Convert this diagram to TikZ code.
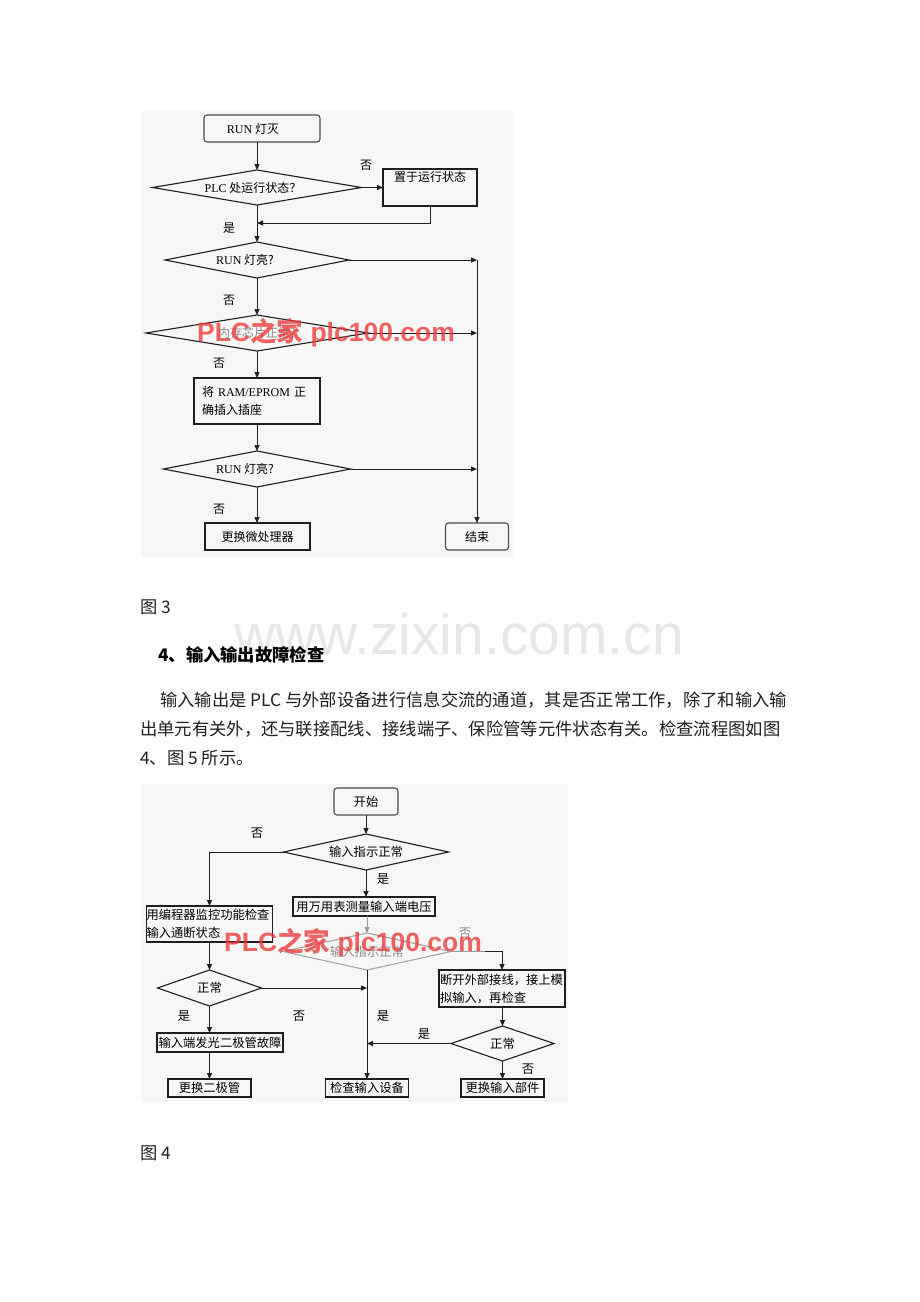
\documentclass[tikz,border=0pt]{standalone}
\usepackage{fontspec}
\setmainfont{Noto Sans CJK SC}
\newfontfamily\lat{Liberation Serif}
\newfontfamily\lsans{Liberation Sans}
\usetikzlibrary{shapes.geometric,arrows.meta}
\definecolor{bgc}{RGB}{247,247,247}
\definecolor{lnc}{RGB}{30,30,30}
\definecolor{wmred}{RGB}{240,55,55}
\newcommand\fza{\fontsize{12}{18}\selectfont}
\newcommand\fzb{\fontsize{12.3}{18}\selectfont}
\newcommand\bt{\fontsize{17.3}{20}\selectfont}
\tikzset{
  ln/.style={line width=1pt, draw=lnc},
  arr/.style={ln, -{Triangle[length=6pt,width=5pt]}},
  box/.style={draw=lnc, line width=1.1pt, inner sep=0pt, outer sep=0pt, align=center},
  rbox/.style={box, rounded corners=3pt, draw=black!70},
  dia/.style={diamond, draw=lnc, line width=1.1pt, inner sep=0pt, outer sep=0pt},
  lbl/.style={inner sep=0pt},
  body/.style={inner sep=0pt, anchor=west, font=\bt, text=black!88},
  wm/.style={inner sep=0pt, text=wmred, opacity=0.78, font=\lsans\bfseries\fontsize{26.5}{27}\selectfont}
}
\begin{document}
\begin{tikzpicture}[x=1pt,y=-1pt]
\useasboundingbox (0,0) rectangle (920,1302);
\fill[white] (0,0) rectangle (920,1302);
\fill[bgc] (141,111) rectangle (513,557);
\fill[bgc] (141,784) rectangle (568,1102);

% ---------- Figure 3 ----------
\begin{scope}[font=\fza]
\node[rbox, minimum width=116pt, minimum height=27pt] (s1) at (262,128.5) {{\lat RUN} 灯灭\hspace*{18pt}};
\node[dia, minimum width=209pt, minimum height=35pt, shape aspect=6] (d1) at (257,187.5) {{\lat PLC} 处运行状态？\hspace*{8pt}};
\node[box, minimum width=94pt, minimum height=37pt] (b2) at (430,187.5) {置于运行状态\\[4pt]};
\coordinate (j1) at (257,223);
\node[dia, minimum width=184pt, minimum height=36pt, shape aspect=5] (d2) at (257,260) {{\lat RUN} 灯亮?\hspace*{24pt}};
\node[dia, minimum width=222pt, minimum height=36pt, shape aspect=6, text=black!45] (d3) at (257,333) {内存芯片正常?};
\node[box, minimum width=126pt, minimum height=46pt, text width=110pt, align=left] (b3) at (257,401) {将 {\lat RAM/EPROM} 正\\确插入插座};
\node[dia, minimum width=187pt, minimum height=36pt, shape aspect=5] (d4) at (257,469) {{\lat RUN} 灯亮?\hspace*{24pt}};
\node[box, minimum width=105pt, minimum height=27pt] (b4) at (257.5,536.5) {更换微处理器};
\node[rbox, minimum width=63pt, minimum height=27pt] (e1) at (477,536.5) {结束};
\coordinate (r1) at (477,260);
\coordinate (r2) at (477,333);
\coordinate (r3) at (477,469);

\draw[arr] (s1.south -| d1.north) -- (d1.north);
\draw[arr] (d1.east) -- (b2.west);
\draw[arr] (b2.south) |- (j1);
\draw[arr] (d1.south) -- (d2.north);
\draw[arr] (d2.east) -- (r1);
\draw[arr] (d2.south) -- (d3.north);
\draw[arr] (d3.east) -- (r2);
\draw[arr] (d3.south) -- (b3.north);
\draw[arr] (b3.south) -- (d4.north);
\draw[arr] (d4.east) -- (r3);
\draw[arr] (d4.south) -- (d4.south |- b4.north);
\draw[arr] (r1) -- (e1.north);

\node[lbl] (n1) at (366,165) {否};
\node[lbl] (n2) at (229,228) {是};
\node[lbl] (n3) at (229,300) {否};
\node[lbl] (n4) at (219,363) {否};
\node[lbl] (n5) at (219,509) {否};
\end{scope}
\node[wm] (w1) at (326,333) {PLC{\rmfamily\bfseries 之家} plc100.com};

% ---------- page text ----------
\node[inner sep=0pt, font=\lsans\fontsize{57}{57}\selectfont, text=black!9] (wz) at (459,634) {www.zixin.com.cn};
\node[body] (cap3) at (140,607) {图 3};
\node[body, font=\bt\bfseries, text=black] (hd) at (158,655) {4、输入输出故障检查};
\node[body] (p1) at (160,700) {输入输出是 PLC 与外部设备进行信息交流的通道，其是否正常工作，除了和输入输};
\node[body] (p2) at (140,729) {出单元有关外，还与联接配线、接线端子、保险管等元件状态有关。检查流程图如图};
\node[body] (p3) at (140,758) {4、图 5 所示。};
\node[body] (cap4) at (140,1153) {图 4};

% ---------- Figure 4 ----------
\begin{scope}[font=\fzb]
\node[rbox, minimum width=64pt, minimum height=27pt] (s2) at (366,801.5) {开始};
\node[dia, minimum width=165pt, minimum height=36pt, shape aspect=4.6] (f1) at (366,852) {输入指示正常};
\node[box, minimum width=126pt, minimum height=36pt, text width=126pt, align=left] (L1) at (209.5,924) {用编程器监控功能检查\\输入通断状态};
\node[box, minimum width=142pt, minimum height=19pt] (M1) at (364,906.5) {用万用表测量输入端电压};
\node[dia, draw=black!35, text=black!45, minimum width=168pt, minimum height=37pt, shape aspect=4.6] (f2) at (367,951.5) {输入指示正常};
\node[box, minimum width=126pt, minimum height=37pt, text width=124pt, align=left] (R1) at (502,988.5) {断开外部接线，接上模\\拟输入，再检查};
\node[dia, minimum width=104pt, minimum height=36pt, shape aspect=3] (fL) at (209.5,988) {正常};
\node[box, minimum width=126pt, minimum height=19pt] (L2) at (220,1042.5) {输入端发光二极管故障};
\node[box, minimum width=83pt, minimum height=18pt] (L3) at (209.5,1088) {更换二极管};
\node[box, minimum width=83pt, minimum height=18pt] (M2) at (367,1088) {检查输入设备};
\node[dia, minimum width=103pt, minimum height=35pt, shape aspect=3] (fR) at (502.5,1043.5) {正常};
\node[box, minimum width=83pt, minimum height=18pt] (R2) at (502.5,1088) {更换输入部件};
\coordinate (jm1) at (367,988);
\coordinate (jm2) at (367,1043.5);
\coordinate (cr) at (485,951.5);

\draw[arr] (s2.south) -- (f1.north);
\draw[arr] (f1.west) -| (L1.north);
\draw[arr] (f1.south) -- (f1.south |- M1.north);
\draw[arr, draw=black!40] (M1.south -| f2.north) -- (f2.north);
\draw[ln, draw=black!40] (f2.east) -- (cr);
\draw[arr] (cr) -| (R1.north);
\draw[arr] (L1.south -| fL.north) -- (fL.north);
\draw[arr] (fL.east) -- (jm1);
\draw[arr] (fL.south) -- (fL.south |- L2.north);
\draw[arr] (L2.south -| L3.north) -- (L3.north);
\draw[arr] (f2.south) -- (M2.north);
\draw[arr] (R1.south -| fR.north) -- (fR.north);
\draw[arr] (fR.west) -- (jm2);
\draw[arr] (fR.south) -- (R2.north);

\node[lbl] (m1) at (257,833) {否};
\node[lbl] (m2) at (383,879) {是};
\node[lbl, text=black!45] (m3) at (465,933) {否};
\node[lbl] (m4) at (184,1016) {是};
\node[lbl] (m5) at (299,1016) {否};
\node[lbl] (m6) at (383,1016) {是};
\node[lbl] (m7) at (424,1034) {是};
\node[lbl] (m8) at (528,1069) {否};
\end{scope}
\node[wm] (w2) at (353,943) {PLC{\rmfamily\bfseries 之家} plc100.com};
\end{tikzpicture}
\end{document}
